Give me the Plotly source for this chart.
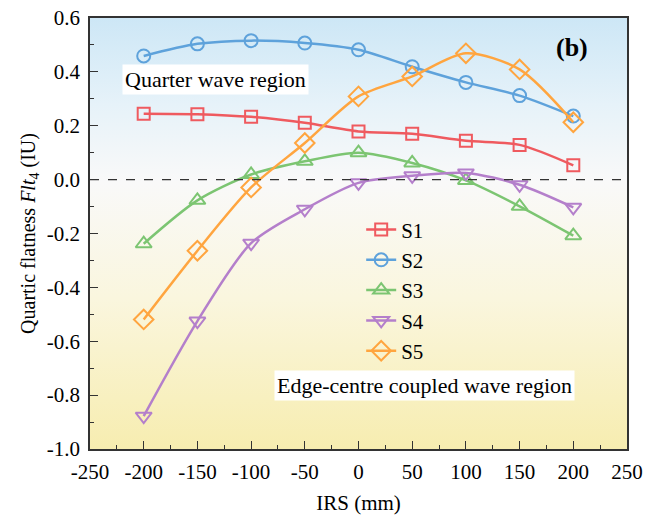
import plotly.graph_objects as go

irs = [-200, -150, -100, -50, 0, 50, 100, 150, 200]
s1 = [0.245, 0.243, 0.233, 0.211, 0.179, 0.170, 0.144, 0.129, 0.053]
s2 = [0.459, 0.504, 0.516, 0.507, 0.482, 0.419, 0.361, 0.312, 0.236]
s3 = [-0.238, -0.077, 0.019, 0.068, 0.100, 0.062, -0.003, -0.099, -0.208]
s4 = [-0.878, -0.525, -0.236, -0.110, -0.012, 0.014, 0.025, -0.019, -0.103]
s5 = [-0.519, -0.264, -0.029, 0.136, 0.309, 0.383, 0.469, 0.409, 0.213]

names = ["S1", "S2", "S3", "S4", "S5"]
series = [s1, s2, s3, s4, s5]
colors = ["#ef5a5f", "#5ea2db", "#7cc572", "#b47fcb", "#ffa53f"]
symbols = ["square-open", "circle-open", "triangle-up-open", "triangle-down-open", "diamond-open"]
sizes = [12, 13, 14, 14, 15]

x_ticks = [-250, -200, -150, -100, -50, 0, 50, 100, 150, 200, 250]
x_ticktext = ["-250", "-200", "-150", "-100", "-50", "0", "50", "100", "150", "200", "250"]
y_ticks = [-1.0, -0.8, -0.6, -0.4, -0.2, 0.0, 0.2, 0.4, 0.6]
y_ticktext = ["-1.0", "-0.8", "-0.6", "-0.4", "-0.2", "0.0", "0.2", "0.4", "0.6"]

x_range = [-250, 250]
y_range = [-1.0, 0.6]

fig = go.Figure()

# gradient background
fig.add_trace(go.Scatter(
    x=[x_range[0], x_range[1], x_range[1], x_range[0], x_range[0]],
    y=[y_range[0], y_range[0], y_range[1], y_range[1], y_range[0]],
    mode="lines", line=dict(width=0), fill="toself",
    fillgradient=dict(type="vertical", colorscale=[
        [0.0, "rgb(247,237,176)"], [0.35, "rgb(250,246,222)"],
        [0.62, "rgb(249,249,249)"], [0.8, "rgb(230,242,249)"], [1.0, "rgb(205,231,246)"]]),
    showlegend=False, hoverinfo="skip"))

for n, s, c, sym, sz in zip(names, series, colors, symbols, sizes):
    fig.add_trace(go.Scatter(
        x=irs, y=s, name=n, mode="lines+markers",
        line=dict(color=c, width=2.5, shape="spline", smoothing=0.8),
        marker=dict(symbol=sym, size=sz, color=c, line=dict(width=2, color=c))))

fig.add_shape(type="line", x0=x_range[0], x1=x_range[1], y0=0, y1=0,
              line=dict(color="#333", width=1.3, dash="dash"), layer="above")

font_family = "Liberation Serif, Times New Roman, serif"

fig.add_annotation(x=-133, y=0.37, text="Quarter wave region", showarrow=False,
                   bgcolor="white", font=dict(size=22, color="black", family=font_family),
                   borderpad=2)
fig.add_annotation(x=61, y=-0.763, text="Edge-centre coupled wave region", showarrow=False,
                   bgcolor="white", font=dict(size=22, color="black", family=font_family),
                   borderpad=2)
fig.add_annotation(x=199, y=0.49, text="<b>(b)</b>", showarrow=False,
                   font=dict(size=26, color="black", family=font_family))

axis_common = dict(showline=True, linecolor="#333", linewidth=1.5, mirror=True,
                   ticks="inside", tickcolor="#333", ticklen=8, tickwidth=1.3,
                   showgrid=False, zeroline=False, automargin=False,
                   tickfont=dict(size=21, color="black", family=font_family))

fig.update_xaxes(range=x_range, tickvals=x_ticks, ticktext=x_ticktext,
                 minor=dict(ticks="inside", ticklen=4, tickcolor="#333", dtick=25, tick0=-250),
                 ticklabelstandoff=3,
                 title=dict(text="IRS (mm)", font=dict(size=21, color="black", family=font_family), standoff=12),
                 **axis_common)
fig.update_yaxes(range=y_range, tickvals=y_ticks, ticktext=y_ticktext,
                 minor=dict(ticks="inside", ticklen=4, tickcolor="#333", dtick=0.1, tick0=-1.0),
                 ticklabelstandoff=4,
                 title=dict(text="Quartic flatness <i>Flt</i><sub>4</sub> (IU)",
                            font=dict(size=20, color="black", family=font_family), standoff=6),
                 **axis_common)

fig.update_layout(
    width=658, height=515,
    margin=dict(l=90, r=31, t=18, b=66),
    paper_bgcolor="white", plot_bgcolor="white",
    legend=dict(x=0.505, y=0.556, xanchor="left", yanchor="top",
                bgcolor="rgba(0,0,0,0)", font=dict(size=21, color="black", family=font_family),
                tracegroupgap=0),
    showlegend=True,
)

fig.write_html("out.html")
